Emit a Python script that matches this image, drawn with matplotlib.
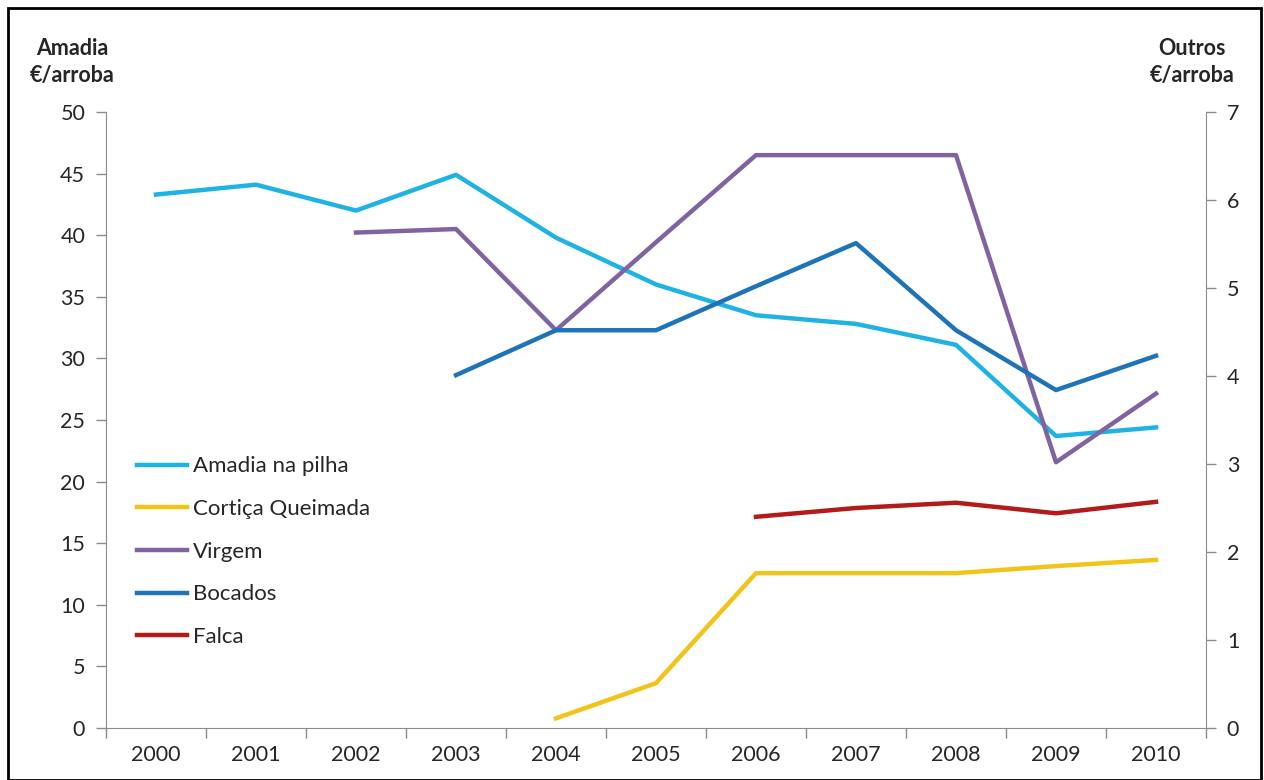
import numpy as np
import matplotlib.pyplot as plt
from matplotlib.patches import Rectangle

# Dados (preço em €/arroba)
anos = ['2000', '2001', '2002', '2003', '2004', '2005', '2006', '2007', '2008', '2009', '2010']
amadia_na_pilha = [43.3, 44.1, 42.0, 44.9, 39.8, 36.0, 33.5, 32.8, 31.1, 23.7, 24.4]
cortica_queimada = [None, None, None, None, 0.11, 0.51, 1.76, 1.76, 1.76, 1.84, 1.91]
virgem = [None, None, 5.63, 5.67, 4.52, 5.52, 6.51, 6.51, 6.51, 3.02, 3.80]
bocados = [None, None, None, 4.01, 4.52, 4.52, 5.02, 5.51, 4.52, 3.84, 4.23]
falca = [None, None, None, None, None, None, 2.40, 2.50, 2.56, 2.44, 2.57]

cores = {
    'Amadia na pilha': '#1FB3E4',
    'Cortiça Queimada': '#F2C318',
    'Virgem': '#8064A2',
    'Bocados': '#1F74B8',
    'Falca': '#B41A1A',
}

plt.rcParams['font.family'] = ['Lato', 'DejaVu Sans']
cinza = '#8C8C8C'
texto = '#262626'

fig = plt.figure(figsize=(12.64, 7.8), dpi=100)
ax = fig.add_axes([106 / 1264, 1 - 728 / 780, 1100 / 1264, 616 / 780])
ax2 = ax.twinx()

x = np.arange(len(anos))

def serie(v):
    return np.array([np.nan if a is None else a for a in v], dtype=float)

h1, = ax.plot(x, amadia_na_pilha, color=cores['Amadia na pilha'], lw=3.2, label='Amadia na pilha')
h2, = ax2.plot(x, serie(cortica_queimada), color=cores['Cortiça Queimada'], lw=3.2, label='Cortiça Queimada')
h3, = ax2.plot(x, serie(virgem), color=cores['Virgem'], lw=3.2, label='Virgem')
h4, = ax2.plot(x, serie(bocados), color=cores['Bocados'], lw=3.2, label='Bocados')
h5, = ax2.plot(x, serie(falca), color=cores['Falca'], lw=3.2, label='Falca')

ax.set_xlim(-0.5, len(anos) - 0.5)
ax.set_ylim(0, 50)
ax2.set_ylim(0, 7)
ax.set_yticks(np.arange(0, 51, 5))
ax2.set_yticks(np.arange(0, 8, 1))

ax.set_xticks(x)
ax.set_xticklabels(anos)
ax.set_xticks(np.arange(-0.5, len(anos), 1), minor=True)
ax.tick_params(axis='x', which='major', length=0, pad=12, labelsize=15.5, labelcolor=texto)
ax.tick_params(axis='x', which='minor', length=7, color=cinza, width=1)
ax.tick_params(axis='y', length=7, color=cinza, width=1, labelsize=15.5, labelcolor=texto, pad=8)
ax2.tick_params(axis='y', length=7, color=cinza, width=1, labelsize=15.5, labelcolor=texto, pad=8)

for a in (ax, ax2):
    a.spines['top'].set_visible(False)
    for s in ('left', 'right', 'bottom'):
        a.spines[s].set_color(cinza)
ax2.spines['left'].set_visible(False)
ax2.spines['bottom'].set_visible(False)
ax.spines['right'].set_visible(False)

# Títulos dos eixos
fig.text(72 / 1264, 1 - 62 / 780, 'Amadia\n€/arroba', ha='center', va='center',
         fontsize=15.5, fontweight='bold', color=texto, linespacing=1.4)
fig.text(1192 / 1264, 1 - 62 / 780, 'Outros\n€/arroba', ha='center', va='center',
         fontsize=15.5, fontweight='bold', color=texto, linespacing=1.4)

leg = ax2.legend(handles=[h1, h2, h3, h4, h5], loc='upper left',
                 bbox_to_anchor=(0.028, 0.441), frameon=False, fontsize=16,
                 borderpad=0, borderaxespad=0,
                 handlelength=2.25, handletextpad=0.27, labelspacing=1.02)
for t in leg.get_texts():
    t.set_color(texto)

# Moldura exterior
fig.patches.append(Rectangle((8 / 1264, 0), 1253 / 1264, 1 - 8 / 780,
                             transform=fig.transFigure, fill=False,
                             edgecolor='black', lw=2))

fig.savefig('out.png', dpi=100)
